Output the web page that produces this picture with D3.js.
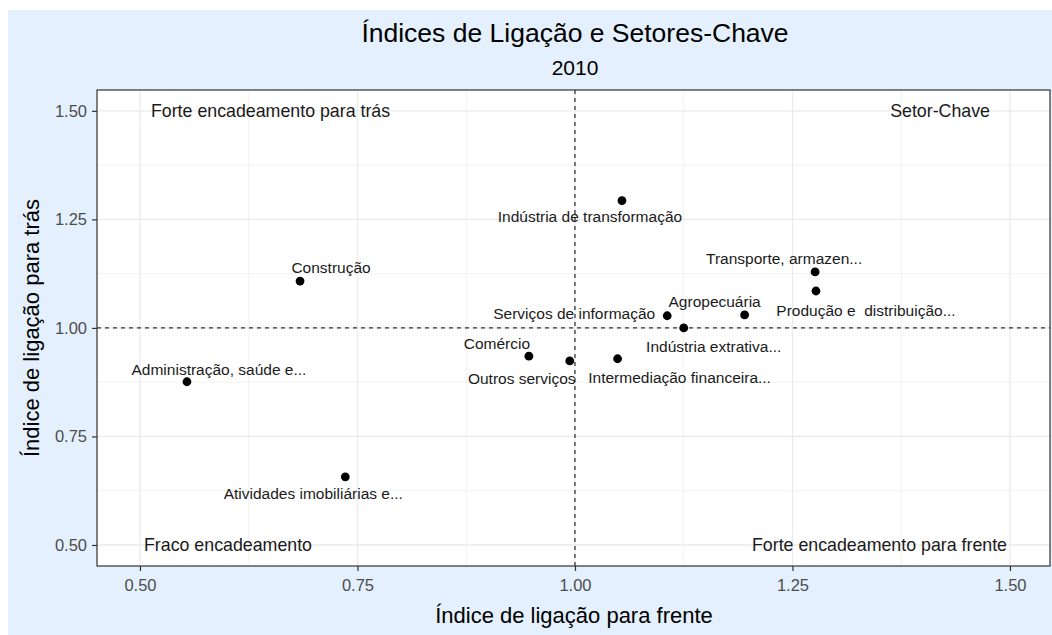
<!DOCTYPE html>
<html>
<head>
<meta charset="utf-8">
<script src="https://cdn.jsdelivr.net/npm/d3@7"></script>
<style>
  html, body { margin: 0; padding: 0; background: #ffffff; }
  svg { display: block; font-family: "Liberation Sans", Arial, sans-serif; }
</style>
</head>
<body>
<svg id="chart" width="1052" height="635"></svg>
<script>
// setores e índices (frente = x, trás = y)
var sectors = ["Indústria de transformação", "Construção", "Administração, saúde e...",
  "Atividades imobiliárias e...", "Comércio", "Outros serviços", "Intermediação financeira...",
  "Serviços de informação", "Indústria extrativa...", "Agropecuária",
  "Transporte, armazen...", "Produção e  distribuição..."];
var forwardIdx  = [1.054, 0.684, 0.554, 0.736, 0.947, 0.994, 1.049, 1.106, 1.125, 1.195, 1.276, 1.277];
var backwardIdx = [1.293, 1.108, 0.876, 0.657, 0.935, 0.924, 0.929, 1.028, 1.000, 1.030, 1.129, 1.085];
var xTicks = [0.50, 0.75, 1.00, 1.25, 1.50];
var yTicks = [0.50, 0.75, 1.00, 1.25, 1.50];
var quadrantNames = ["Forte encadeamento para trás", "Setor-Chave", "Fraco encadeamento", "Forte encadeamento para frente"];

// deslocamento dos rótulos (px) em relação ao ponto, tipo ggrepel
var labelShift = [[-32, 16], [31, -14], [32, -12], [-32, 17], [-32, -13], [-48, 18], [62, 19],
  [-93, -2], [30, 19], [-30, -13], [-31, -13], [50, 19]];

var svg = d3.select("#chart");
var W = 1052, H = 635;
var panel = { left: 97, top: 90, right: 1050, bottom: 566 };

svg.append("rect").attr("x", 8).attr("y", 10).attr("width", W - 8).attr("height", H - 10)
  .attr("fill", "#e4f0fd");

var x = d3.scaleLinear().domain([0.4506, 1.546]).range([panel.left, panel.right]);
var y = d3.scaleLinear().domain([0.4516, 1.548]).range([panel.bottom, panel.top]);

var g = svg.append("g");
g.append("rect").attr("x", panel.left).attr("y", panel.top)
  .attr("width", panel.right - panel.left).attr("height", panel.bottom - panel.top)
  .attr("fill", "#ffffff");

// grades menores e maiores
var minorX = d3.range(0.375, 1.7, 0.25).filter(function(v) { return v > x.domain()[0] && v < x.domain()[1]; });
var minorY = d3.range(0.375, 1.7, 0.25).filter(function(v) { return v > y.domain()[0] && v < y.domain()[1]; });
g.selectAll(".minx").data(minorX).enter().append("line")
  .attr("x1", x).attr("x2", x).attr("y1", panel.top).attr("y2", panel.bottom)
  .attr("stroke", "#f2f2f2").attr("stroke-width", 1);
g.selectAll(".miny").data(minorY).enter().append("line")
  .attr("y1", y).attr("y2", y).attr("x1", panel.left).attr("x2", panel.right)
  .attr("stroke", "#f2f2f2").attr("stroke-width", 1);
g.selectAll(".majx").data(xTicks).enter().append("line")
  .attr("x1", x).attr("x2", x).attr("y1", panel.top).attr("y2", panel.bottom)
  .attr("stroke", "#ebebeb").attr("stroke-width", 1.3);
g.selectAll(".majy").data(yTicks).enter().append("line")
  .attr("y1", y).attr("y2", y).attr("x1", panel.left).attr("x2", panel.right)
  .attr("stroke", "#ebebeb").attr("stroke-width", 1.3);

// linhas de referência em 1
g.append("line").attr("x1", x(1)).attr("x2", x(1)).attr("y1", panel.top).attr("y2", panel.bottom)
  .attr("stroke", "#000").attr("stroke-width", 1).attr("stroke-dasharray", "4,4");
g.append("line").attr("y1", y(1)).attr("y2", y(1)).attr("x1", panel.left).attr("x2", panel.right)
  .attr("stroke", "#000").attr("stroke-width", 1).attr("stroke-dasharray", "4,4");

// textos dos quadrantes
var qPos = [[0.5126, 1.5, "start"], [1.477, 1.5, "end"], [0.5046, 0.5, "start"], [1.4966, 0.5, "end"]];
quadrantNames.forEach(function(t, i) {
  g.append("text").attr("x", x(qPos[i][0])).attr("y", y(qPos[i][1]) + 6)
    .attr("text-anchor", qPos[i][2]).attr("font-size", 17.8).attr("fill", "#1a1a1a").text(t);
});

// pontos
g.selectAll(".pt").data(sectors).enter().append("circle")
  .attr("cx", function(d, i) { return x(forwardIdx[i]); })
  .attr("cy", function(d, i) { return y(backwardIdx[i]); })
  .attr("r", 4.4).attr("fill", "#000");

g.selectAll(".lbl").data(sectors).enter().append("text")
  .attr("x", function(d, i) { return x(forwardIdx[i]) + labelShift[i][0]; })
  .attr("y", function(d, i) { return y(backwardIdx[i]) + labelShift[i][1] + 5.5; })
  .attr("text-anchor", "middle").attr("font-size", 15.5).attr("fill", "#1a1a1a")
  .attr("xml:space", "preserve")
  .text(function(d) { return d; });

// borda do painel
g.append("rect").attr("x", panel.left).attr("y", panel.top)
  .attr("width", panel.right - panel.left).attr("height", panel.bottom - panel.top)
  .attr("fill", "none").attr("stroke", "#333333").attr("stroke-width", 1.2);

// eixos
var xAxis = svg.append("g").attr("transform", "translate(0," + panel.bottom + ")")
  .call(d3.axisBottom(x).tickValues(xTicks).tickFormat(d3.format(".2f")).tickSize(5).tickPadding(8));
var yAxis = svg.append("g").attr("transform", "translate(" + panel.left + ",0)")
  .call(d3.axisLeft(y).tickValues(yTicks).tickFormat(d3.format(".2f")).tickSize(5).tickPadding(5));
[xAxis, yAxis].forEach(function(a) {
  a.select(".domain").remove();
  a.selectAll(".tick line").attr("stroke", "#333333").attr("stroke-width", 1.2);
  a.selectAll(".tick text").attr("fill", "#4d4d4d").attr("font-size", 16.5)
    .attr("font-family", "Liberation Sans, Arial, sans-serif");
});

// títulos
svg.append("text").attr("x", 575).attr("y", 42).attr("text-anchor", "middle")
  .attr("font-size", 26.5).attr("fill", "#000").text("Índices de Ligação e Setores-Chave");
svg.append("text").attr("x", 575).attr("y", 75).attr("text-anchor", "middle")
  .attr("font-size", 21).attr("fill", "#000").text("2010");
svg.append("text").attr("x", 574).attr("y", 623).attr("text-anchor", "middle")
  .attr("font-size", 22).attr("fill", "#000").text("Índice de ligação para frente");
svg.append("text").attr("transform", "translate(39,328) rotate(-90)").attr("text-anchor", "middle")
  .attr("font-size", 22).attr("fill", "#000").text("Índice de ligação para trás");
</script>
</body>
</html>
